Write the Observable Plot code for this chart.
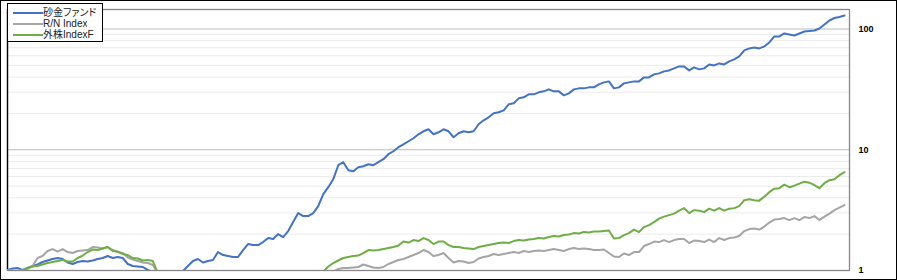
<!DOCTYPE html>
<html>
<head>
<meta charset="utf-8">
<script src="https://cdn.jsdelivr.net/npm/d3@7"></script>
<script src="https://cdn.jsdelivr.net/npm/@observablehq/plot@0.6"></script>
<style>
  html, body { margin: 0; padding: 0; background: #fff; }
  #wrap { position: relative; width: 897px; height: 280px; }
  #wrap svg { display: block; outline: 1px solid #000; outline-offset: -1px; }
  .legend { position: absolute; left: 7px; top: 3px; width: 96px; height: 39px; box-sizing: border-box;
            border: 1px solid #000; background: #fff;
            font-family: "Liberation Sans", "Noto Sans CJK JP", sans-serif;
            font-feature-settings: "palt"; font-size: 10px; color: #222; }
  .legend .row { position: absolute; left: 0; width: 94px; height: 11px; }
  .legend .sw { position: absolute; left: 5px; top: 4.5px; width: 30px; height: 2px; }
  .legend .lb { position: absolute; left: 35px; top: 0; display: block; height: 11px; line-height: 11px;
                white-space: nowrap; overflow: hidden; }
</style>
</head>
<body>
<div id="wrap"></div>
<script>
// Series names and colours
const names = ["砂金ファンド", "R/N Index", "外株IndexF"];
const colors = ["#4472C4", "#A5A5A5", "#70AD47"];

// Monthly index values (log scale); values below 1 fall outside the chart area
const blue = [
  1.01,1.039,1.048,1.01,1.05,1.089,1.121,1.176,1.21,1.245,
  1.269,1.245,1.164,1.132,1.176,1.198,1.187,1.21,1.245,1.269,
  1.318,1.269,1.293,1.269,1.132,1.089,1.079,1.069,1.01,0.97,
  0.94,0.92,0.9,0.91,0.95,0.99,1.089,1.198,1.245,1.164,
  1.198,1.221,1.422,1.343,1.318,1.293,1.293,1.477,1.656,1.624,
  1.624,1.72,1.856,1.821,2.003,1.892,2.121,2.517,2.987,2.821,
  2.821,2.987,3.412,4.288,4.898,5.704,7.444,7.882,6.768,6.64,
  7.168,7.305,7.59,7.444,7.882,8.348,9.18,9.718,10.49,11.1,
  11.76,12.45,13.43,14.22,14.77,13.43,13.95,14.77,14.22,12.69,
  13.69,14.22,13.95,14.22,16.25,17.53,18.56,20.03,20.42,21.21,
  23.77,24.23,26.65,27.16,28.75,28.75,29.87,30.45,31.62,30.45,
  30.45,28.21,29.31,31.62,32.23,32.23,32.85,32.85,34.77,36.13,
  36.82,32.23,32.85,35.44,36.13,36.82,36.82,39.73,39.73,42.07,
  42.88,44.55,45.4,47.17,48.99,48.99,45.4,48.07,46.28,47.17,
  50.89,49.93,51.86,50.89,53.87,55.96,59.25,66.44,69.02,70.35,
  69.02,71.71,77.35,86.7,86.7,91.8,90.07,88.38,91.8,95.35,
  96.27,97.18,100.9,108.9,117.6,123.3,125.7,129.3
];
const gray = [
  1.0,1.0,0.99,1.01,1.029,1.089,1.269,1.318,1.449,1.505,
  1.436,1.505,1.422,1.395,1.449,1.463,1.477,1.564,1.549,1.52,
  1.564,1.477,1.422,1.395,1.281,1.233,1.198,1.164,1.153,1.11,
  0.95,0.91,0.88,0.85,0.83,0.8,0.78,0.77,0.75,0.74,
  0.74,0.73,0.75,0.74,0.76,0.78,0.77,0.79,0.8,0.82,
  0.81,0.83,0.85,0.84,0.86,0.88,0.87,0.89,0.9,0.92,
  0.91,0.93,0.94,0.96,0.97,0.98,1.029,1.048,1.048,1.059,
  1.069,1.121,1.089,1.059,1.048,1.069,1.132,1.176,1.221,1.245,
  1.293,1.343,1.395,1.477,1.422,1.318,1.343,1.395,1.269,1.164,
  1.198,1.187,1.153,1.176,1.257,1.293,1.318,1.369,1.343,1.369,
  1.395,1.422,1.395,1.449,1.422,1.449,1.463,1.449,1.477,1.505,
  1.477,1.449,1.505,1.535,1.505,1.52,1.505,1.477,1.477,1.491,
  1.395,1.306,1.293,1.382,1.343,1.422,1.422,1.594,1.656,1.737,
  1.72,1.787,1.72,1.787,1.821,1.821,1.688,1.769,1.753,1.72,
  1.804,1.72,1.856,1.787,1.856,1.874,1.928,2.121,2.203,2.224,
  2.182,2.31,2.494,2.64,2.665,2.716,2.615,2.716,2.615,2.768,
  2.716,2.821,2.615,2.794,2.958,3.162,3.317,3.477
];
const green = [
  0.99,0.99,0.98,1.0,1.048,1.079,1.089,1.121,1.153,1.176,
  1.198,1.221,1.187,1.187,1.269,1.33,1.422,1.491,1.477,1.52,
  1.564,1.449,1.436,1.369,1.343,1.269,1.257,1.21,1.221,1.198,
  0.95,0.92,0.89,0.86,0.84,0.82,0.8,0.79,0.77,0.76,
  0.76,0.75,0.77,0.76,0.78,0.8,0.79,0.81,0.82,0.84,
  0.83,0.85,0.87,0.86,0.88,0.9,0.89,0.91,0.92,0.94,
  0.93,0.95,0.96,0.98,1.079,1.153,1.21,1.269,1.293,1.318,
  1.33,1.395,1.477,1.463,1.477,1.505,1.535,1.564,1.609,1.737,
  1.704,1.787,1.753,1.856,1.787,1.656,1.737,1.737,1.624,1.564,
  1.564,1.535,1.52,1.505,1.564,1.594,1.624,1.656,1.688,1.704,
  1.688,1.753,1.787,1.769,1.804,1.821,1.856,1.839,1.892,1.928,
  1.91,1.965,1.984,2.041,2.022,2.081,2.061,2.101,2.101,2.121,
  2.141,1.839,1.856,1.965,2.041,2.182,2.081,2.288,2.377,2.517,
  2.691,2.794,2.875,2.958,3.13,3.285,2.987,3.162,3.13,3.044,
  3.253,3.13,3.285,3.13,3.253,3.285,3.412,3.824,3.898,3.824,
  3.788,4.089,4.455,4.761,4.806,5.137,4.898,5.04,5.236,5.44,
  5.338,5.088,4.806,5.286,5.596,5.704,6.156,6.516
];

// Axis ticks and grid lines
const yTicks = [1, 10, 100];
const majorGrid = [10, 100];
const minorGrid = [2,3,4,5,6,7,8,9,20,30,40,50,60,70,80,90];

const seriesValues = [blue, gray, green];
const rows = names.map((name, k) => seriesValues[k].map((v, i) => ({i, v, name})));

const chart = Plot.plot({
  width: 897,
  height: 280,
  marginLeft: 7,
  marginRight: 48,
  marginTop: 9,
  marginBottom: 10,
  x: {domain: [0, 168], axis: null},
  y: {type: "log", domain: [1, 145], axis: null},
  color: {domain: names, range: colors},
  style: {background: "#fff", overflow: "visible"},
  marks: [
    Plot.ruleY(minorGrid, {stroke: "#ebebeb", strokeWidth: 1}),
    Plot.ruleY(majorGrid, {stroke: "#bcbcbc", strokeWidth: 1}),
    Plot.frame({stroke: "#868686", strokeWidth: 1.3}),
    Plot.ruleX([0], {stroke: "#000", strokeWidth: 1.3}),
    ...rows.map(r => Plot.line(r, {x: "i", y: "v", stroke: "name", strokeWidth: 2, clip: true, strokeLinejoin: "round"})),
    Plot.axisY(yTicks, {
      anchor: "right", label: null, tickSize: 0, tickPadding: 9,
      tickFormat: d => String(d),
      fontFamily: "Liberation Sans, Arial, sans-serif",
      fontSize: 9, fontWeight: "bold", fill: "#000", textAnchor: "start"
    })
  ]
});

const wrap = document.getElementById("wrap");
wrap.appendChild(chart);

// Legend (inside the chart, top-left)
const legend = document.createElement("div");
legend.className = "legend";
names.forEach((name, k) => {
  const row = document.createElement("div");
  row.className = "row";
  row.style.top = (3 + k * 11) + "px";
  const sw = document.createElement("span");
  sw.className = "sw";
  sw.style.background = colors[k];
  const lb = document.createElement("span");
  lb.className = "lb";
  lb.textContent = name;
  row.appendChild(sw);
  row.appendChild(lb);
  legend.appendChild(row);
});
wrap.appendChild(legend);
</script>
</body>
</html>
